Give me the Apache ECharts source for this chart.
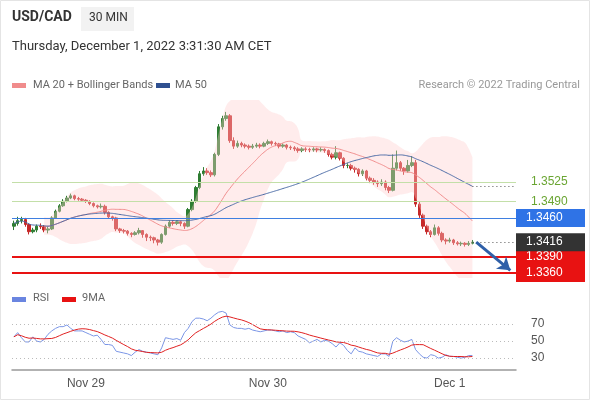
<!DOCTYPE html>
<html><head><meta charset="utf-8">
<script src="https://cdn.jsdelivr.net/npm/echarts@6/dist/echarts.min.js"></script>
<style>html,body{margin:0;padding:0;background:#fff}#c{width:590px;height:400px}</style>
</head><body><div id="c"></div>
<script>
const closes=[1.3450,1.3455,1.3457,1.3448,1.3435,1.3438,1.3445,1.3444,1.3438,1.3440,
1.3460,1.3472,1.3482,1.3490,1.3496,1.3500,1.3495,1.3494,1.3492,1.3490,
1.3486,1.3482,1.3480,1.3481,1.3470,1.3462,1.3460,1.3440,1.3437,1.3436,
1.3432,1.3430,1.3433,1.3437,1.3430,1.3425,1.3424,1.3420,1.3416,1.3430,
1.3445,1.3452,1.3450,1.3453,1.3450,1.3445,1.3475,1.3490,1.3515,1.3540,
1.3545,1.3542,1.3538,1.3575,1.3625,1.3640,1.3645,1.3600,1.3590,1.3595,
1.3592,1.3590,1.3588,1.3590,1.3592,1.3590,1.3595,1.3598,1.3595,1.3594,
1.3590,1.3592,1.3588,1.3587,1.3585,1.3582,1.3585,1.3584,1.3583,1.3585,
1.3583,1.3584,1.3582,1.3575,1.3570,1.3578,1.3568,1.3555,1.3555,1.3550,
1.3548,1.3540,1.3545,1.3532,1.3528,1.3525,1.3522,1.3525,1.3515,1.3510,
1.3550,1.3560,1.3550,1.3545,1.3555,1.3560,1.3485,1.3465,1.3445,1.3435,
1.3430,1.3442,1.3432,1.3420,1.3418,1.3420,1.3415,1.3413,1.3414,1.3412,
1.3414,1.3416];
const firstOpen=1.3445;
const highs=[1.3455,1.3462,1.3462,1.3460,1.3450,1.3442,1.3448,1.3450,1.3447,1.3444,
1.3463,1.3475,1.3485,1.3494,1.3500,1.3504,1.3502,1.3498,1.3496,1.3494,
1.3492,1.3488,1.3484,1.3486,1.3484,1.3472,1.3464,1.3462,1.3442,1.3440,
1.3438,1.3434,1.3436,1.3442,1.3438,1.3432,1.3428,1.3426,1.3422,1.3432,
1.3448,1.3456,1.3455,1.3456,1.3455,1.3452,1.3478,1.3494,1.3518,1.3545,
1.3552,1.3550,1.3546,1.3578,1.3630,1.3645,1.3652,1.3648,1.3606,1.3600,
1.3598,1.3595,1.3593,1.3594,1.3596,1.3595,1.3598,1.3602,1.3600,1.3598,
1.3596,1.3595,1.3594,1.3591,1.3590,1.3588,1.3588,1.3588,1.3587,1.3588,
1.3587,1.3588,1.3586,1.3584,1.3578,1.3590,1.3580,1.3570,1.3560,1.3558,
1.3553,1.3550,1.3548,1.3547,1.3535,1.3532,1.3528,1.3530,1.3528,1.3518,
1.3575,1.3582,1.3563,1.3552,1.3565,1.3572,1.3565,1.3490,1.3468,1.3448,
1.3438,1.3448,1.3445,1.3435,1.3423,1.3424,1.3422,1.3418,1.3417,1.3416,
1.3418,1.3420];
const lows=[1.3438,1.3446,1.3450,1.3444,1.3430,1.3432,1.3434,1.3440,1.3434,1.3432,
1.3438,1.3458,1.3470,1.3480,1.3488,1.3494,1.3492,1.3491,1.3489,1.3487,
1.3483,1.3479,1.3477,1.3477,1.3466,1.3458,1.3455,1.3436,1.3433,1.3432,
1.3428,1.3425,1.3428,1.3430,1.3424,1.3418,1.3418,1.3414,1.3410,1.3413,
1.3428,1.3442,1.3446,1.3447,1.3445,1.3440,1.3443,1.3472,1.3487,1.3512,
1.3536,1.3538,1.3534,1.3535,1.3572,1.3620,1.3636,1.3596,1.3585,1.3587,
1.3588,1.3586,1.3584,1.3585,1.3587,1.3586,1.3588,1.3592,1.3591,1.3590,
1.3586,1.3587,1.3584,1.3583,1.3581,1.3578,1.3579,1.3580,1.3579,1.3580,
1.3579,1.3580,1.3578,1.3571,1.3566,1.3566,1.3564,1.3550,1.3550,1.3546,
1.3542,1.3535,1.3536,1.3528,1.3523,1.3520,1.3516,1.3518,1.3510,1.3505,
1.3508,1.3546,1.3545,1.3538,1.3542,1.3552,1.3480,1.3460,1.3440,1.3430,
1.3425,1.3428,1.3428,1.3416,1.3412,1.3415,1.3411,1.3410,1.3409,1.3408,
1.3409,1.3412];
const rsi=[55,60,54,49,49,55,50,49,52,58,62,65,67,67,69,65,62,62,62,60,
58,56,57,52,46,46,45,38,37,36,35,33,37,40,38,37,36,35,34,42,
54,53,52,53,51,60,65,73,77,77,76,74,77,81,84,85,83,69,66,65,
65,64,65,63,62,61,62,63,63,62,61,62,60,61,60,56,54,52,48,50,
52,49,51,50,47,43,48,45,39,35,42,38,37,35,34,33,32,35,35,32,
50,54,51,49,50,52,40,35,31,30,34,33,30,31,34,32,32,31,30,31,
33,33];
const dayLabels={19:'Nov 29',67:'Nov 30',115:'Dec 1'};
const levels={green:[1.3525,1.3490],blue:1.3460,red:[1.3390,1.3360],last:1.3416};
const N=133;

const cats=[];for(let i=0;i<N;i++)cats.push(String(i));
const ohlc=closes.map((c,i)=>[i?closes[i-1]:firstOpen,c,lows[i],highs[i]]);
function ma(arr,p){return arr.map((v,i)=>{const s=arr.slice(Math.max(0,i-p+1),i+1);return s.reduce((a,b)=>a+b,0)/s.length;});}
const ma20=ma(closes,20),ma50=ma(closes,50);
const sd=closes.map((v,i)=>{const s=closes.slice(Math.max(0,i-19),i+1);const m=ma20[i];return Math.sqrt(s.reduce((a,b)=>a+(b-m)*(b-m),0)/s.length);});
const START=8;
const bbLow=closes.map((v,i)=>i<START?null:ma20[i]-2.2*sd[i]);
const bbDiff=closes.map((v,i)=>i<START?null:4.4*sd[i]);
const ma20v=ma20.map((v,i)=>i<START?null:v);
const rsiMa=ma(rsi,9);
const L=closes.length-1;

const lbl=(bg,col)=>({show:true,position:'end',formatter:p=>Number(p.value).toFixed(4),color:col,fontSize:12,backgroundColor:bg,padding:[3,7,3,10],width:52,distance:0});
const glbl={show:true,position:'end',formatter:p=>Number(p.value).toFixed(4),color:'#6aa532',fontSize:12,padding:[0,0,0,10]};
const chart=echarts.init(document.getElementById('c'));
chart.setOption({
animation:false,
grid:[{left:12,right:74,top:100,height:178},{left:12,right:74,top:310,height:60}],
xAxis:[{type:'category',data:cats,gridIndex:0,show:false},
{type:'category',data:cats,gridIndex:1,axisLine:{lineStyle:{color:'#999',width:1.5}},axisTick:{show:false},
 axisLabel:{interval:0,color:'#555',fontSize:12,margin:8,formatter:(v,i)=>dayLabels[i]||''}}],
yAxis:[{type:'value',gridIndex:0,min:1.33511,max:1.36736,show:false},
{type:'value',gridIndex:1,min:16,max:86.6,show:false}],
series:[
{type:'line',data:bbLow,stack:'bb',symbol:'none',lineStyle:{width:0},smooth:true,silent:true},
{type:'line',data:bbDiff,stack:'bb',symbol:'none',lineStyle:{width:0},smooth:true,areaStyle:{color:'rgba(255,205,205,0.55)'},silent:true},
{type:'line',data:ma20v,symbol:'none',smooth:true,lineStyle:{color:'#f08c8c',width:1}},
{type:'line',data:ma50,symbol:'none',smooth:true,lineStyle:{color:'#4a6aa5',width:1},
 markLine:{silent:true,precision:6,symbol:'none',label:{show:false},lineStyle:{type:[1,3],color:'#555',width:1},data:[[{coord:[L,ma50[L]]},{coord:[N-1,ma50[L]]}]]}},
{type:'candlestick',data:ohlc,barWidth:3,itemStyle:{color:'#2e7d32',color0:'#c62828',borderColor:'#2e7d32',borderColor0:'#c62828',borderWidth:1},
 markLine:{silent:true,precision:6,symbol:'none',data:[
  {yAxis:levels.green[0],lineStyle:{color:'#c3dfa8',type:'solid',width:1.2},label:glbl},
  {yAxis:levels.green[1],lineStyle:{color:'#c3dfa8',type:'solid',width:1.2},label:glbl},
  {yAxis:levels.blue,lineStyle:{color:'#3f7fe0',type:'solid',width:1.2},label:lbl('#2f73e6','#fff')},
  {yAxis:levels.red[0],lineStyle:{color:'#e81212',type:'solid',width:2},label:lbl('#e81212','#fff')},
  {yAxis:levels.red[1],lineStyle:{color:'#e81212',type:'solid',width:2},label:lbl('#e81212','#fff')},
  [{coord:[L,levels.last],lineStyle:{type:[1,3],color:'#555',width:1},label:{show:false}},{coord:[N-1,levels.last]}],
  [{coord:[L+1,levels.last],lineStyle:{color:'#2f5fa8',width:3,type:'solid'},symbol:'none',label:{show:false}},{coord:[N-2,1.3365],symbol:'arrow',symbolSize:12}]
 ]}},
{type:'line',data:new Array(N).fill(null),symbol:'none',
 markLine:{silent:true,precision:6,symbol:'none',data:[{yAxis:levels.last,lineStyle:{width:0},label:lbl('#333','#fff')}]}},
{type:'line',xAxisIndex:1,yAxisIndex:1,data:rsi,symbol:'none',lineStyle:{color:'#7b96e6',width:1},
 markLine:{silent:true,symbol:'none',lineStyle:{type:[1,3],color:'#bbb',width:1},label:{show:true,position:'end',color:'#555',fontSize:12,padding:[0,0,0,10]},data:[{yAxis:70},{yAxis:50},{yAxis:30}]}},
{type:'line',xAxisIndex:1,yAxisIndex:1,data:rsiMa,symbol:'none',lineStyle:{color:'#e02020',width:1}}
],
graphic:[
{type:'rect',shape:{x:0.5,y:0.5,width:589,height:399},style:{fill:'none',stroke:'#e4e4e4'}},
{type:'text',left:12,top:10,style:{text:'USD/CAD',font:'bold 14px Roboto, sans-serif',fill:'#333'}},
{type:'rect',shape:{x:81,y:7,width:53,height:24},style:{fill:'#f2f2f2'}},
{type:'text',left:89,top:12,style:{text:'30 MIN',font:'12px Roboto, sans-serif',fill:'#333'}},
{type:'text',left:12,top:40,style:{text:'Thursday, December 1, 2022 3:31:30 AM CET',font:'13px Roboto, sans-serif',fill:'#333'}},
{type:'rect',shape:{x:12,y:83,width:14,height:5},style:{fill:'#f08c8c'}},
{type:'text',left:33,top:80,style:{text:'MA 20 + Bollinger Bands',font:'11px Roboto, sans-serif',fill:'#666'}},
{type:'rect',shape:{x:156,y:83,width:14,height:5},style:{fill:'#2f5090'}},
{type:'text',left:175,top:80,style:{text:'MA 50',font:'11px Roboto, sans-serif',fill:'#666'}},
{type:'text',right:10,top:80,style:{text:'Research © 2022 Trading Central',font:'11px Roboto, sans-serif',fill:'#999'}},
{type:'rect',shape:{x:12,y:297,width:14,height:5},style:{fill:'#6a85e0'}},
{type:'text',left:33,top:293,style:{text:'RSI',font:'11px Roboto, sans-serif',fill:'#666'}},
{type:'rect',shape:{x:62,y:297,width:14,height:5},style:{fill:'#e81212'}},
{type:'text',left:82,top:293,style:{text:'9MA',font:'11px Roboto, sans-serif',fill:'#666'}}
]
});
</script></body></html>
